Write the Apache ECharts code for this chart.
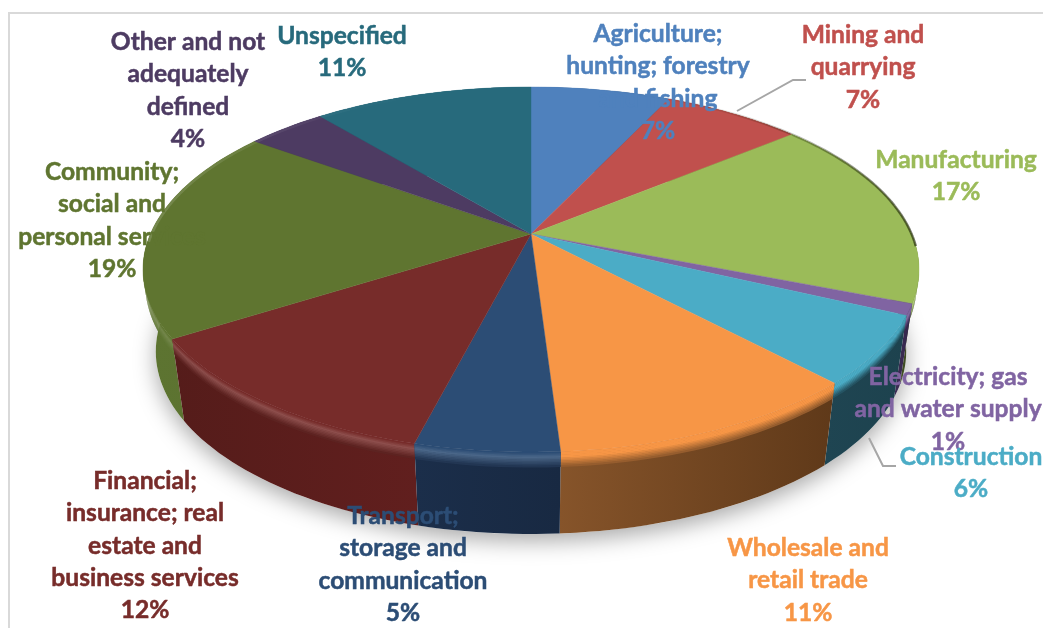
<!DOCTYPE html>
<html>
<head>
<meta charset="utf-8">
<title>Employment by sector</title>
<style>html,body{margin:0;padding:0;background:#fff}#chart{width:1043px;height:628px}</style>
<script src="https://cdn.jsdelivr.net/npm/echarts@6/dist/echarts.min.js"></script>
</head>
<body>
<div id="chart"></div>
<script>
// Sector shares, clockwise from twelve o'clock
const categories = [
  'Agriculture;\nhunting; forestry\nand fishing',
  'Mining and\nquarrying',
  'Manufacturing',
  'Electricity; gas\nand water supply',
  'Construction',
  'Wholesale and\nretail trade',
  'Transport;\nstorage and\ncommunication',
  'Financial;\ninsurance; real\nestate and\nbusiness services',
  'Community;\nsocial and\npersonal services',
  'Other and not\nadequately\ndefined',
  'Unspecified'
];
const shares = [7, 7, 17, 1, 6, 11, 5, 12, 19, 4, 11];

const topColors = ['#4f81bd', '#c0504d', '#9bbb59', '#8064a2', '#4bacc6', '#f79646',
                   '#2c4d75', '#772c2a', '#5f7530', '#4d3b62', '#276a7c'];
const wallColors = [
  ['#2c4a6e', '#2c4a6e'], ['#6e2d2b', '#6e2d2b'], ['#4f5f2c', '#3d4a22'], ['#3d2d56', '#33254a'],
  ['#1f4552', '#1d424e'], ['#86542a', '#5f3919'], ['#1b2e4a', '#182942'], ['#551c1a', '#611f1e'],
  ['#5d7431', '#5c7230'], ['#3d2d56', '#3d2d56'], ['#1d4f5d', '#1d4f5d']
];
// How far each slice's bevel brightens before falling into the wall colour
const bevelGlow = [0, 0, 0, 0.1, 0, 0, 0.14, 0.16, 0.14, 0, 0];

// Label anchors: horizontal centre and vertical centre of the first line
const labelAnchors = [
  [658, 34], [863, 35], [956, 160], [948, 377], [971, 457], [808, 548],
  [403, 516], [145, 481], [112, 172], [188, 42], [342, 36]
];

// Perspective view of the disc
const view = { cx: 531, cy: 234, rx: 380.6, ry: 175.6, k: 0.1945, depth: 82, shrink: 0.967 };
const bevelDepth = 15, bevelSteps = 10, arcStep = Math.PI / 120;

function rimPoint(theta) {
  const u = Math.sin(theta), v = -Math.cos(theta), d = 1 - view.k * v;
  return [view.cx + view.rx * u / d, view.cy + view.ry * v / d];
}
function lowerPoint(theta, depth) {
  const p = rimPoint(theta), f = depth / view.depth;
  return [view.cx + (p[0] - view.cx) * (1 - (1 - view.shrink) * f), p[1] + depth];
}
function arcAngles(a, b) {
  const out = [];
  for (let t = a; t < b; t += arcStep) out.push(t);
  out.push(b);
  return out;
}
function mix(c1, c2, t) {
  const p = c => [1, 3, 5].map(i => parseInt(c.substr(i, 2), 16));
  const a = p(c1), b = p(c2);
  const hex = a.map((x, i) => Math.round(x + (b[i] - x) * t).toString(16).padStart(2, '0'));
  return '#' + hex.join('');
}
function band(a, b, d0, d1) {
  const angles = arcAngles(a, b);
  return angles.map(t => lowerPoint(t, d0)).concat(angles.slice().reverse().map(t => lowerPoint(t, d1)));
}

let cum = 0;
const sliceRows = shares.map((s, i) => {
  const row = [cum, cum + s, i];
  cum += s;
  return row;
});
const toAngle = pct => pct / cum * Math.PI * 2;
// Walls are painted from the back of the disc towards the front
const wallRows = sliceRows.slice().sort((p, q) =>
  Math.abs((q[0] + q[1]) / 2 - 50) - Math.abs((p[0] + p[1]) / 2 - 50));

function renderWall(params, api) {
  const a = toAngle(api.value(0)), b = toAngle(api.value(1)), i = api.value(2);
  const wall = wallColors[i];
  const children = [{
    type: 'polygon',
    shape: { points: band(a, b, 0, view.depth) },
    style: { fill: new echarts.graphic.LinearGradient(0, 0, 1, 0, [
      { offset: 0, color: wall[0] }, { offset: 1, color: wall[1] }]) }
  }];
  // Soft bevel where the top face rolls over into the wall
  const light = mix(topColors[i], '#ffffff', bevelGlow[i]);
  for (let s = 0; s < bevelSteps; s++) {
    const t = s / bevelSteps;
    const d0 = bevelDepth * t, d1 = bevelDepth * (s + 1) / bevelSteps + 0.6;
    const fill = t < 0.3 ? mix(topColors[i], light, t / 0.3) : mix(light, wall[0], (t - 0.3) / 0.7);
    children.push({ type: 'polygon', shape: { points: band(a, b, d0, d1) }, style: { fill } });
  }
  return { type: 'group', children };
}

function renderTop(params, api) {
  const a = toAngle(api.value(0)), b = toAngle(api.value(1)), i = api.value(2);
  const angles = arcAngles(a, b);
  const children = [{
    type: 'polygon',
    shape: { points: [[view.cx, view.cy]].concat(angles.map(rimPoint)) },
    style: { fill: topColors[i], stroke: topColors[i], lineWidth: 0.4 }
  }];
  // Rim shading: dark on the far right, pale on the far left
  for (let n = 0; n + 1 < angles.length; n++) {
    const t = angles[n], sn = Math.sin(t), back = Math.cos(t);
    if (back < -0.05) continue;
    const dark = sn > 0;
    const alpha = Math.pow(Math.abs(sn), 3) * (dark ? 0.6 : 0.14);
    children.push({
      type: 'line',
      shape: { x1: rimPoint(t)[0], y1: rimPoint(t)[1], x2: rimPoint(angles[n + 1])[0], y2: rimPoint(angles[n + 1])[1] },
      style: { stroke: dark ? 'rgba(20,25,0,' + alpha + ')' : 'rgba(255,255,255,' + alpha + ')', lineWidth: dark ? 2.5 : 5 }
    });
  }
  return { type: 'group', children };
}

function renderShadow() {
  return {
    type: 'polygon',
    shape: { points: arcAngles(0, Math.PI * 2).map(t => lowerPoint(t, view.depth)) },
    style: { fill: '#ffffff', shadowColor: 'rgba(0,0,0,0.34)', shadowBlur: 22, shadowOffsetY: 7 }
  };
}

function renderLabel(params, api) {
  const i = api.value(2), at = labelAnchors[i];
  return {
    type: 'text',
    style: {
      x: at[0], y: at[1] - 16,
      text: categories[i] + '\n' + shares[i] + '%',
      fill: topColors[i],
      stroke: topColors[i],
      lineWidth: 0.5,
      font: 'bold 24.6px Lato',
      lineHeight: 32.3,
      align: 'center',
      verticalAlign: 'top'
    }
  };
}

const leaderLines = [
  [[737, 111], [793, 80], [806, 80]],
  [[869, 438], [883, 466], [896, 466]]
];

const chart = echarts.init(document.getElementById('chart'), null, { renderer: 'canvas' });
chart.setOption({
  animation: false,
  backgroundColor: '#ffffff',
  tooltip: { show: false },
  graphic: [
    { type: 'rect', z: 0, silent: true, shape: { x: 9, y: 13, width: 1200, height: 800 },
      style: { fill: 'none', stroke: '#d9d9d9', lineWidth: 2 } }
  ].concat(leaderLines.map(points => ({
    type: 'polyline', z: 5, silent: true, shape: { points },
    style: { fill: 'none', stroke: '#a6a6a6', lineWidth: 2 }
  }))),
  series: [
    { type: 'custom', coordinateSystem: 'none', silent: true, z: 1, data: [[0]], renderItem: renderShadow },
    { type: 'custom', coordinateSystem: 'none', silent: true, z: 2, data: wallRows, renderItem: renderWall },
    { type: 'custom', coordinateSystem: 'none', silent: true, z: 3, data: sliceRows, renderItem: renderTop },
    { type: 'custom', coordinateSystem: 'none', silent: true, z: 6, data: sliceRows, renderItem: renderLabel }
  ]
});
</script>
</body>
</html>
